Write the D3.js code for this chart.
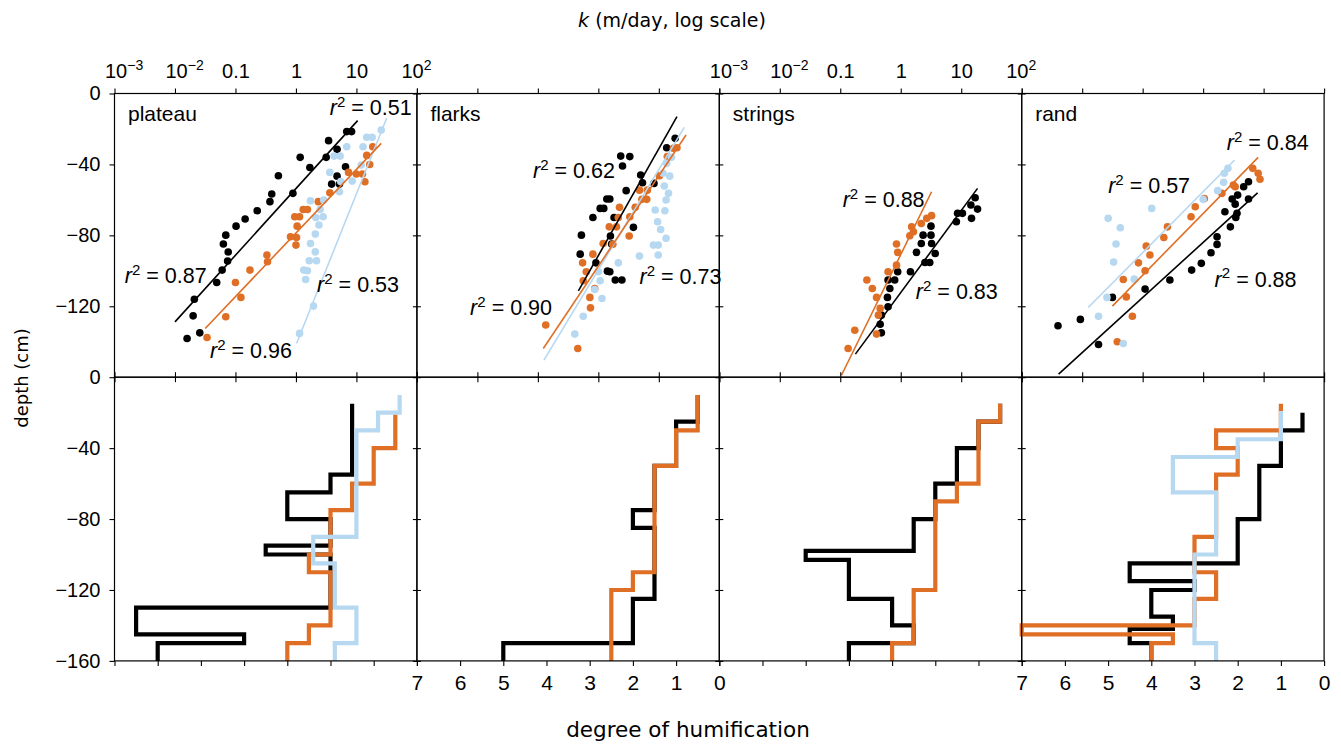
<!DOCTYPE html>
<html><head><meta charset="utf-8">
<script src="https://cdn.jsdelivr.net/npm/d3@7"></script>
<style>body{margin:0;background:#fff}svg{display:block}</style>
</head><body>
<svg id="chart" width="1341" height="744"></svg>
<script>
// ---------------- DATA ----------------
const panelNames = ["plateau", "flarks", "strings", "rand"];
const kTickValues = [1e-3, 1e-2, 1e-1, 1, 10, 100];
const depthTicksTop = [0, -40, -80, -120];
const depthTicksBottom = [0, -40, -80, -120, -160];
const humTicks = [7, 6, 5, 4, 3, 2, 1, 0];

// scatter points: [log10 k (m/day), depth (cm)]
const plateauBlack = [[0.84,-21.5],[0.92,-21.5],[0.54,-26.6],[0.68,-31.5],[0.07,-36],[0.50,-36],[0.23,-41.7],[0.82,-41.3],[-0.29,-46.4],[0.68,-46.6],[0.59,-51.1],[0.72,-51.1],[-0.40,-56.7],[-0.43,-61],[-0.05,-56.3],[-0.64,-66.1],[-0.84,-70.8],[-0.99,-74.8],[-1.16,-79.9],[-1.20,-84.9],[-1.12,-89.4],[-1.13,-94.5],[-1.22,-99.6],[-1.31,-106.6],[-1.68,-116],[-1.70,-125.4],[-1.59,-135],[-1.80,-138.2]];
const plateauOrange = [[1.27,-30],[1.17,-34.9],[1.22,-40],[1.10,-45.4],[1.00,-45.4],[1.14,-49.8],[0.87,-44.5],[0.56,-56],[0.37,-61],[0.12,-65.4],[0.19,-65.4],[-0.02,-69.5],[0.06,-69.5],[0.02,-74.8],[-0.09,-80.8],[0.01,-81.2],[0.00,-85.5],[-0.48,-91.1],[-0.47,-94.9],[-0.76,-99.6],[-1.00,-106.6],[-0.91,-115],[-1.16,-125.9],[-1.47,-137.6]];
const plateauBlue = [[1.41,-20.6],[1.17,-24.7],[1.26,-24.7],[1.11,-30],[0.84,-30],[0.73,-35.3],[0.63,-35.3],[1.08,-40.3],[0.56,-44.5],[0.93,-49.4],[0.74,-49.7],[0.72,-55.4],[0.46,-60.1],[0.24,-60.5],[0.40,-65.4],[0.45,-69.5],[0.33,-69.9],[0.38,-74.2],[0.32,-79.3],[0.24,-84.6],[0.32,-89.3],[0.34,-94.3],[0.22,-94.3],[0.13,-99.6],[0.19,-100],[0.16,-104.9],[0.29,-119.9],[0.06,-135.3]];

const flarksBlack = [[1.27,-25.3],[1.13,-30.6],[0.37,-35.3],[0.52,-35.6],[0.40,-40.9],[0.70,-46],[0.73,-50.3],[0.92,-50.7],[0.46,-54.8],[0.14,-59.5],[0.19,-59.5],[0.03,-64.8],[0.09,-64.8],[-0.09,-69.9],[0.26,-69.9],[0.58,-75.5],[0.20,-80.4],[-0.28,-79.9],[0.22,-84.9],[-0.30,-90.6],[-0.04,-95.5],[0.15,-100.2],[0.19,-100.5],[0.28,-105.2],[0.39,-105.2]];
const flarksOrange = [[1.30,-30.6],[1.24,-30.9],[1.14,-35.6],[1.01,-46.4],[0.81,-54.5],[0.68,-54.5],[0.72,-59.7],[0.80,-59.7],[0.35,-64.2],[0.61,-64.2],[0.33,-69.9],[0.52,-69.5],[0.18,-75.2],[0.30,-75.2],[0.51,-80.4],[0.08,-84.6],[0.24,-85],[-0.09,-90.6],[-0.26,-95.5],[-0.20,-100.5],[-0.25,-105.6],[-0.06,-110],[-0.14,-115],[-0.13,-120.9],[-0.87,-130.6],[-0.34,-143.8]];
const flarksBlue = [[1.21,-36],[1.13,-39.4],[1.07,-45],[1.18,-46.6],[1.09,-52.2],[1.16,-56.3],[1.12,-60.1],[0.94,-65.7],[1.10,-66.1],[0.98,-72.3],[1.03,-76.7],[1.12,-81.7],[0.91,-85.5],[0.99,-85.5],[0.99,-91.1],[0.68,-91.7],[0.33,-95.5],[0.00,-100.5],[0.03,-105.6],[-0.06,-110.5],[0.06,-115.6],[-0.25,-125.6],[-0.39,-135.7]];

const stringsBlack = [[1.23,-58.8],[1.16,-62.9],[1.27,-65.2],[1.17,-70.4],[1.02,-67.6],[0.94,-67.6],[0.92,-72.3],[0.50,-74.8],[0.50,-79.9],[0.37,-79.9],[0.51,-84.6],[0.34,-84.6],[0.26,-89.6],[0.57,-90.2],[0.48,-95.3],[0.40,-95.3],[0.16,-100.5],[-0.05,-100.5],[-0.10,-105.2],[-0.21,-105.2],[-0.18,-110],[-0.22,-115],[-0.21,-120.3],[-0.32,-125],[-0.34,-130.1],[-0.32,-135]];
const stringsOrange = [[0.51,-68.9],[0.43,-70.4],[0.34,-73.3],[0.18,-75.2],[0.21,-78],[0.15,-80.2],[-0.07,-84.9],[-0.05,-89.6],[-0.07,-96.8],[-0.21,-100.5],[-0.56,-105.2],[-0.47,-110],[-0.40,-115],[-0.34,-121.2],[-0.37,-125],[-0.40,-135.7],[-0.76,-133.5],[-0.87,-143.8]];

const randBlack = [[0.75,-49.8],[0.67,-52.6],[0.57,-57.3],[0.48,-59.5],[0.75,-59.5],[0.53,-62.4],[0.36,-66.7],[0.56,-67.6],[0.54,-69.9],[0.45,-75.2],[0.23,-80.8],[0.23,-85.1],[0.13,-89.8],[-0.03,-95.8],[-0.19,-99.6],[-0.55,-105.2],[-0.96,-110.3],[-1.50,-115],[-2.03,-127.4],[-2.40,-131],[-1.73,-141.6]];
const randOrange = [[0.82,-42.2],[0.91,-45],[0.94,-48.4],[0.50,-51.6],[0.53,-52.6],[0.31,-56.3],[0.02,-59.2],[-0.13,-63.9],[-0.20,-69.5],[-0.59,-75.2],[-0.65,-81.2],[-0.94,-86.1],[-0.88,-91.1],[-1.07,-95.5],[-0.96,-100],[-1.32,-104.9],[-1.27,-114.7],[-1.17,-125.6],[-1.42,-140]];
const randBlue = [[0.41,-42.2],[0.35,-45],[0.34,-50.1],[0.24,-54.8],[0.00,-59.7],[-0.85,-64.8],[-1.57,-70.4],[-1.37,-75.7],[-1.44,-84.9],[-1.48,-95.1],[-1.14,-104.7],[-1.59,-115],[-1.73,-125.6],[-1.32,-141]];

// regression lines: [[log10 k, depth], [log10 k, depth]]
const plateauFits = { black: [[-2.0,-128.8],[1.02,-15.3]], orange: [[-1.50,-132.5],[1.41,-28.1]], blue: [[0.01,-141],[1.50,-14]] };
const flarksFits  = { black: [[-0.33,-111.3],[1.30,-13.1]], orange: [[-0.91,-143.8],[1.45,-23.4]], blue: [[-0.90,-150.4],[1.42,-19.1]] };
const stringsFits = { black: [[-0.75,-147],[1.27,-53.5]], orange: [[-0.98,-158.9],[0.51,-55.4]] };
const randFits    = { black: [[-2.39,-158.3],[0.90,-56]], orange: [[-1.50,-119.9],[0.91,-36]], blue: [[-1.90,-120.7],[0.52,-37.5]] };

// r² annotations: [value, log10 k, depth]
const plateauR2 = [["0.51",0.56,-12.1],["0.87",-2.83,-106.9],["0.53",0.35,-112],["0.96",-1.42,-149.3]];
const flarksR2  = [["0.62",-1.08,-47.7],["0.90",-2.12,-125],["0.73",0.68,-107.5]];
const stringsR2 = [["0.88",-0.96,-63.9],["0.83",0.25,-116.1]];
const randR2    = [["0.84",0.39,-31.9],["0.57",-1.57,-56.3],["0.88",0.19,-109]];

// humification profiles: depth boundaries (cm) and degree of humification per interval
const plateauBlackDepth = [-15,-55,-65,-80,-95,-100,-130,-145,-150,-160];
const plateauBlackHum   = [1.5,2,3,2,3.5,2,6.5,4,6];
const plateauOrangeDepth = [-21,-40,-60,-75,-100,-110,-140,-150,-160];
const plateauOrangeHum   = [0.5,1,1.5,2,2.5,2,2.5,3];
const plateauBlueDepth = [-10,-20,-30,-90,-105,-130,-150,-160];
const plateauBlueHum   = [0.4,0.9,1.4,2.4,1.9,1.4,1.9];

const flarksBlackDepth = [-10,-25,-50,-75,-85,-125,-150,-160];
const flarksBlackHum   = [0.5,1,1.5,2,1.5,2,5];
const flarksOrangeDepth = [-10,-30,-50,-110,-120,-160];
const flarksOrangeHum   = [0.5,1,1.5,2,2.5];

const stringsBlackDepth = [-15,-25,-40,-60,-80,-98,-103,-125,-140,-150,-160];
const stringsBlackHum   = [0.5,1,1.5,2,2.5,5,4,3,2.5,4];
const stringsOrangeDepth = [-15,-25,-60,-70,-120,-150,-160];
const stringsOrangeHum   = [0.5,1,1.5,2,2.5,3];

const randBlackDepth = [-20,-30,-50,-80,-105,-115,-120,-135,-142,-150,-160];
const randBlackHum   = [0.5,1,1.5,2,4.5,3,4,3.5,4.5,4];
const randOrangeDepth = [-15,-30,-40,-55,-90,-110,-125,-140,-145,-150,-160];
const randOrangeHum   = [1,2.5,2,2.5,3,2.5,3,7,3.5,4];
const randBlueDepth = [-19,-35,-45,-65,-100,-150,-160];
const randBlueHum   = [1,2,3.5,2.5,3,2.5];

// ---------------- ASSEMBLY ----------------
const colors = { black: "#000000", orange: "#E06F26", blue: "#B7D8F1" };
const scatter = [
  { black: plateauBlack, orange: plateauOrange, blue: plateauBlue },
  { black: flarksBlack, orange: flarksOrange, blue: flarksBlue },
  { black: stringsBlack, orange: stringsOrange },
  { black: randBlack, orange: randOrange, blue: randBlue }
];
const fits = [plateauFits, flarksFits, stringsFits, randFits];
const r2 = [plateauR2, flarksR2, stringsR2, randR2];
const profiles = [
  { black: [plateauBlackDepth, plateauBlackHum], orange: [plateauOrangeDepth, plateauOrangeHum], blue: [plateauBlueDepth, plateauBlueHum] },
  { black: [flarksBlackDepth, flarksBlackHum], orange: [flarksOrangeDepth, flarksOrangeHum] },
  { black: [stringsBlackDepth, stringsBlackHum], orange: [stringsOrangeDepth, stringsOrangeHum] },
  { black: [randBlackDepth, randBlackHum], orange: [randOrangeDepth, randOrangeHum], blue: [randBlueDepth, randBlueHum] }
];

// ---------------- LAYOUT ----------------
const left0 = 114.5, panelW = 302.4, top0 = 93.5, rowH = 283.7;
const svg = d3.select("#chart");
const tickFont = "'Liberation Sans', Arial, sans-serif";

const xK = d3.scaleLog().domain([1e-3, 1e2]).range([0, panelW]);
const xH = d3.scaleLinear().domain([7, 0]).range([0, panelW]);
const yD = d3.scaleLinear().domain([0, -160]).range([0, rowH]);

function kLabel(sel) {
  sel.each(function(d) {
    const t = d3.select(this).text(null);
    const e = Math.round(Math.log10(d));
    if (e === -1) t.text("0.1");
    else if (e === 0) t.text("1");
    else if (e === 1) t.text("10");
    else {
      t.attr("text-anchor", "start").attr("x", e < 0 ? -10 : -16);
      t.append("tspan").text("10");
      t.append("tspan").attr("font-size", "0.7em").attr("dy", "-0.55em").text(e < 0 ? "\u2212" + (-e) : String(e));
    }
  });
}

function styleAxis(g) {
  g.select(".domain").remove();
  g.selectAll("line").attr("stroke", "#000").attr("stroke-width", 1.1);
  g.selectAll("text").attr("font-family", tickFont).attr("font-size", 20).attr("fill", "#000");
}

panelNames.forEach((name, p) => {
  const px = left0 + p * panelW;
  const gT = svg.append("g").attr("transform", `translate(${px},${top0})`);
  const gB = svg.append("g").attr("transform", `translate(${px},${top0 + rowH})`);

  // ---------- top row: k vs depth ----------
  ["black", "orange", "blue"].forEach(c => {
    const pts = scatter[p][c];
    if (!pts) return;
    gT.append("g").selectAll("circle").data(pts).join("circle")
      .attr("cx", d => xK(Math.pow(10, d[0])))
      .attr("cy", d => yD(d[1]))
      .attr("r", 3.8)
      .attr("fill", colors[c]);
  });
  const fitLine = d3.line().x(d => xK(Math.pow(10, d[0]))).y(d => yD(d[1]));
  ["blue", "orange", "black"].forEach(c => {
    const f = fits[p][c];
    if (!f) return;
    gT.append("path").attr("d", fitLine(f)).attr("stroke", colors[c]).attr("stroke-width", 1.6).attr("fill", "none");
  });
  r2[p].forEach(d => {
    const t = gT.append("text")
      .attr("x", xK(Math.pow(10, d[1]))).attr("y", yD(d[2]))
      .attr("font-family", tickFont).attr("font-size", 21.5).attr("fill", "#000");
    t.append("tspan").attr("font-style", "italic").text("r");
    t.append("tspan").attr("font-size", "0.7em").attr("dy", "-0.55em").text("2");
    t.append("tspan").attr("dy", "0.385em").text(" = " + d[0]);
  });
  gT.append("text").attr("x", 13.5).attr("y", 27).attr("font-family", tickFont)
    .attr("font-size", 21).attr("fill", "#000").text(name);

  gT.append("rect").attr("width", panelW).attr("height", rowH).attr("fill", "none").attr("stroke", "#000").attr("stroke-width", 1.2);

  const topAx = gT.append("g").call(d3.axisTop(xK).tickValues(kTickValues).tickSizeOuter(0).tickSize(5).tickPadding(11).tickFormat(d => d));
  styleAxis(topAx);
  if (p === 0 || p === 2) topAx.selectAll("text").call(kLabel);
  else topAx.selectAll("text").remove();
  [5, -5].forEach(s => {
    const a = gT.append("g").attr("transform", `translate(0,${rowH})`)
      .call(d3.axisBottom(xK).tickValues(kTickValues).tickSizeOuter(0).tickSize(s).tickFormat(""));
    styleAxis(a);
  });

  // ---------- bottom row: humification profiles ----------
  const stepLine = d3.line().x(d => xH(d[0])).y(d => yD(d[1]));
  ["black", "orange", "blue"].forEach(c => {
    const pr = profiles[p][c];
    if (!pr) return;
    const [dep, hum] = pr;
    const pts = [];
    hum.forEach((h, i) => { pts.push([h, dep[i]]); pts.push([h, dep[i + 1]]); });
    gB.append("path").attr("d", stepLine(pts)).attr("fill", "none")
      .attr("stroke", colors[c]).attr("stroke-width", 4.2)
      .attr("stroke-linejoin", "miter").attr("stroke-linecap", "butt");
  });
  gB.append("rect").attr("width", panelW).attr("height", rowH).attr("fill", "none").attr("stroke", "#000").attr("stroke-width", 1.2);

  const botAx = gB.append("g").attr("transform", `translate(0,${rowH})`)
    .call(d3.axisBottom(xH).tickValues(humTicks).tickSizeOuter(0).tickSize(5).tickPadding(9).tickFormat(d3.format("d")));
  styleAxis(botAx);
  botAx.selectAll("text").attr("font-size", 21);
  if (!(p === 1 || p === 3)) botAx.selectAll("text").remove();

  [[gT, depthTicksTop], [gB, depthTicksBottom]].forEach(([g, ticks]) => {
    if (p === 0) {
      const a = g.append("g").call(d3.axisLeft(yD).tickValues(ticks).tickSizeOuter(0).tickSize(5).tickPadding(9).tickFormat(d3.format("d")));
      styleAxis(a);
    } else {
      [4, -4].forEach(s => {
        const a = g.append("g").call(d3.axisLeft(yD).tickValues(ticks).tickSizeOuter(0).tickSize(s).tickFormat(""));
        styleAxis(a);
      });
    }
  });
});

// axis titles
const titleFont = "'DejaVu Sans', Verdana, sans-serif";
const kt = svg.append("text").attr("x", 672).attr("y", 27).attr("text-anchor", "middle")
  .attr("font-family", titleFont).attr("font-size", 19).attr("fill", "#000");
kt.append("tspan").attr("font-style", "italic").text("k");
kt.append("tspan").text(" (m/day, log scale)");

svg.append("text").attr("transform", "translate(28,378) rotate(-90)").attr("text-anchor", "middle")
  .attr("font-family", titleFont).attr("font-size", 18).attr("fill", "#000").text("depth (cm)");

svg.append("text").attr("x", 688).attr("y", 737).attr("text-anchor", "middle")
  .attr("font-family", titleFont).attr("font-size", 21.5).attr("fill", "#000").text("degree of humification");
</script>
</body></html>
